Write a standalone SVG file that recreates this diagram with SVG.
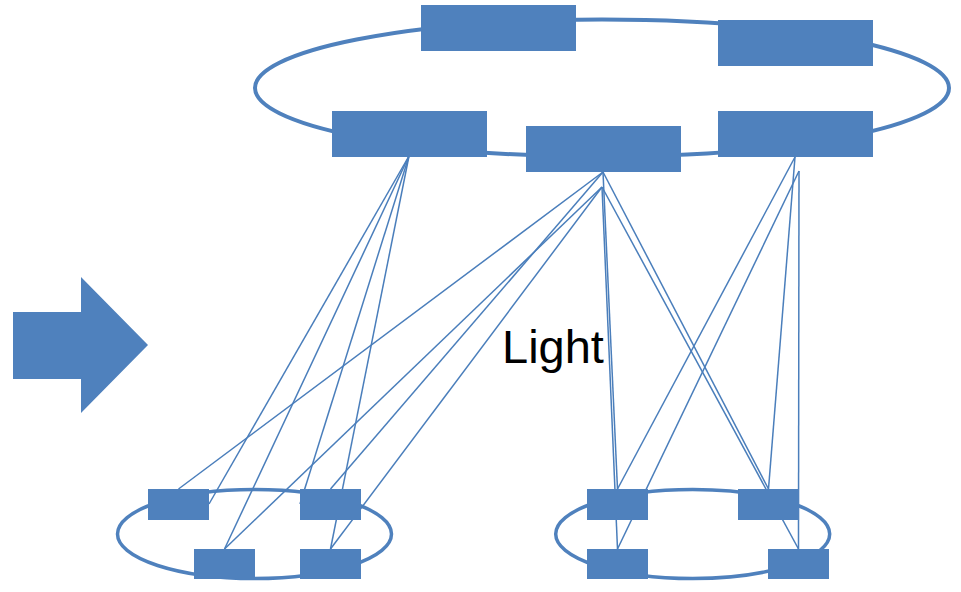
<svg xmlns="http://www.w3.org/2000/svg" width="961" height="592" viewBox="0 0 961 592">
<style>
.ring{fill:none;stroke:#4F81BD}
.node{fill:#4F81BD}
.ln{stroke:#4A7EBB;stroke-width:1.5;fill:none}
.lbl{font-family:"Liberation Sans",Arial,sans-serif;font-size:47px;fill:#000}
</style>
<rect width="961" height="592" fill="#fff"/>
<g id="arrow"><polygon class="node" points="13,312 81,312 81,277 148,345 81,413 81,379 13,379"/></g>
<g id="ring-top"><ellipse class="ring" cx="602" cy="88" rx="347" ry="68.5" stroke-width="4"/></g>
<g id="ring-bl"><ellipse class="ring" cx="254.5" cy="534" rx="137" ry="44.5" stroke-width="3.5"/></g>
<g id="ring-br"><ellipse class="ring" cx="692.7" cy="534" rx="137" ry="44.5" stroke-width="3.5"/></g>
<g id="connectors">
<line class="ln" x1="409" y1="156" x2="209" y2="504"/>
<line class="ln" x1="409" y1="156" x2="224.5" y2="549"/>
<line class="ln" x1="409" y1="156" x2="300" y2="504"/>
<line class="ln" x1="409" y1="156" x2="330.5" y2="549"/>
<line class="ln" x1="603" y1="172" x2="178.5" y2="489"/>
<line class="ln" x1="603" y1="172" x2="330.5" y2="489"/>
<line class="ln" x1="602" y1="187" x2="224.5" y2="549"/>
<line class="ln" x1="602" y1="187" x2="330.5" y2="549"/>
<line class="ln" x1="603" y1="172" x2="617.5" y2="489"/>
<line class="ln" x1="602" y1="187" x2="617.5" y2="549"/>
<line class="ln" x1="603" y1="172" x2="768.5" y2="489"/>
<line class="ln" x1="602" y1="187" x2="798.5" y2="549"/>
<line class="ln" x1="795" y1="157" x2="617.5" y2="489"/>
<line class="ln" x1="795" y1="157" x2="768.5" y2="489"/>
<line class="ln" x1="799" y1="171" x2="617.5" y2="549"/>
<line class="ln" x1="799" y1="171" x2="798.5" y2="549"/>
</g>
<g id="T1"><rect class="node" x="421" y="5" width="155" height="46"/></g>
<g id="T2"><rect class="node" x="718" y="20" width="155" height="46"/></g>
<g id="T3"><rect class="node" x="332" y="111" width="155" height="46"/></g>
<g id="T4"><rect class="node" x="526" y="126" width="155" height="46"/></g>
<g id="T5"><rect class="node" x="718" y="111" width="155" height="46"/></g>
<g id="BL1"><rect class="node" x="148" y="489" width="61" height="31"/></g>
<g id="BL2"><rect class="node" x="300" y="489" width="61" height="31"/></g>
<g id="BL3"><rect class="node" x="194" y="549" width="61" height="30"/></g>
<g id="BL4"><rect class="node" x="300" y="549" width="61" height="30"/></g>
<g id="BR1"><rect class="node" x="587" y="489" width="61" height="31"/></g>
<g id="BR2"><rect class="node" x="738" y="489" width="61" height="31"/></g>
<g id="BR3"><rect class="node" x="587" y="549" width="61" height="30"/></g>
<g id="BR4"><rect class="node" x="768" y="549" width="61" height="30"/></g>
<g id="label"><text class="lbl" x="502" y="363">Light</text></g>
</svg>
